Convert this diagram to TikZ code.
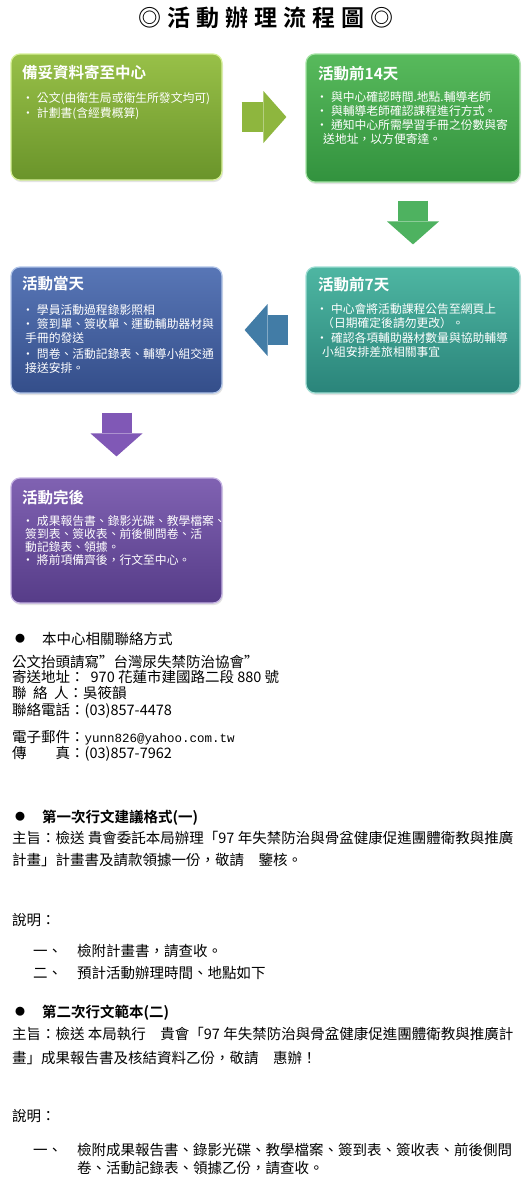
\documentclass[tikz,border=0pt]{standalone}
\usepackage{fontspec}
\setmainfont{Noto Sans CJK TC}[BoldFont={Noto Sans CJK TC Bold}]
\setmonofont{Liberation Mono}
\usetikzlibrary{arrows.meta,shadows}
\definecolor{preptop}{RGB}{152,192,72}
\definecolor{prepbot}{RGB}{106,148,42}
\definecolor{prepedge}{RGB}{214,240,150}
\definecolor{btop}{RGB}{88,186,92}
\definecolor{bbot}{RGB}{50,146,62}
\definecolor{bedge}{RGB}{165,228,165}
\definecolor{ttop}{RGB}{78,182,162}
\definecolor{tbot}{RGB}{42,132,122}
\definecolor{tedge}{RGB}{160,222,212}
\definecolor{daytop}{RGB}{88,118,182}
\definecolor{daybot}{RGB}{52,78,138}
\definecolor{dayedge}{RGB}{176,196,232}
\definecolor{aftertop}{RGB}{128,98,178}
\definecolor{afterbot}{RGB}{86,60,136}
\definecolor{afteredge}{RGB}{196,178,226}
\definecolor{arrowolive}{RGB}{142,182,62}
\definecolor{arrowgreen}{RGB}{78,178,96}
\definecolor{arrowblue}{RGB}{66,124,166}
\definecolor{arrowpurple}{RGB}{128,88,182}
\newcommand{\bul}{•\hspace{3pt}}
\begin{document}
\begin{tikzpicture}[x=1pt, y=-1pt,
    stagebox/.style={line width=1.2pt, rounded corners=9pt, inner sep=0pt,
      drop shadow={opacity=0.22, shadow xshift=1pt, shadow yshift=-2pt}},
    boxhead/.style={anchor=west, inner sep=0pt, text=white,
      font=\bfseries\fontsize{15.5}{17}\selectfont, text height=13.3pt, text depth=1.5pt},
    boxline/.style={anchor=west, inner sep=0pt, text=white,
      font=\fontsize{11.8}{13}\selectfont, text height=10.2pt, text depth=1.2pt},
    bodyline/.style={anchor=west, inner sep=0pt,
      font=\fontsize{14.5}{16}\selectfont, text height=12.5pt, text depth=1.5pt},
    bodyhead/.style={bodyline, font=\bfseries\fontsize{14.5}{16}\selectfont},
    dotmark/.style={anchor=west, inner sep=0pt, font=\fontsize{10}{10}\selectfont},
    blockarrow/.style={line width=30pt,
      -{Triangle[width=52pt, length=23pt, line width=0pt]}}]
  \fill[white] (0,0) rectangle (528,1200);
  \useasboundingbox (0,0) rectangle (528,1200);
  % title
  \def\tsp{\hspace{6pt}}
  \node[font=\bfseries\fontsize{23}{25}\selectfont, inner sep=0pt] (title) at (266,18)
    {◎\tsp 活\tsp 動\tsp 辦\tsp 理\tsp 流\tsp 程\tsp 圖\tsp ◎};
  % stages
  \node[stagebox, minimum width=211pt, minimum height=126pt, draw=prepedge,
    top color=preptop, bottom color=prepbot] (prep) at (116.5,117) {};
  \node[stagebox, minimum width=214pt, minimum height=128pt, draw=bedge,
    top color=btop, bottom color=bbot] (before14) at (413,118) {};
  \node[stagebox, minimum width=214pt, minimum height=126pt, draw=tedge,
    top color=ttop, bottom color=tbot] (before7) at (413,330) {};
  \node[stagebox, minimum width=211pt, minimum height=126pt, draw=dayedge,
    top color=daytop, bottom color=daybot] (dayof) at (116.5,330) {};
  \node[stagebox, minimum width=211pt, minimum height=125pt, draw=afteredge,
    top color=aftertop, bottom color=afterbot] (after) at (116.5,540.5) {};
  % flow arrows
  \draw[blockarrow, draw=arrowolive, shorten <=19pt, shorten >=19pt]
    (prep.east) -- (prep.east -| before14.west);
  \draw[blockarrow, draw=arrowgreen, shorten <=18pt, shorten >=22pt]
    (before14.south) -- (before7.north);
  \draw[blockarrow, draw=arrowblue, shorten <=17pt, shorten >=22pt]
    (before7.west) -- (dayof.east);
  \draw[blockarrow, draw=arrowpurple, shorten <=19pt, shorten >=21pt]
    (dayof.south) -- (after.north);
  % stage texts
  \node[boxhead] (prep-h) at (22,73) {備妥資料寄至中心};
  \foreach \y/\t [count=\i] in {98/{\bul 公文(由衛生局或衛生所發文均可)},
      113/{\bul 計劃書(含經費概算)}}
    \node[boxline] (prep-\i) at (22,\y) {\t};
  \node[boxhead] (before14-h) at (318,74) {活動前14天};
  \foreach \x/\y/\t [count=\i] in {316/97/{\bul 與中心確認時間.地點.輔導老師},
      316/111/{\bul 與輔導老師確認課程進行方式。},
      316/125/{\bul 通知中心所需學習手冊之份數與寄},
      323/139/{送地址，以方便寄達。}}
    \node[boxline] (before14-\i) at (\x,\y) {\t};
  \node[boxhead] (before7-h) at (318,285) {活動前7天};
  \foreach \x/\y/\t [count=\i] in {316/309/{\bul 中心會將活動課程公告至網頁上},
      322/323/{（日期確定後請勿更改）。},
      316/338/{\bul 確認各項輔助器材數量與協助輔導},
      322/352/{小組安排差旅相關事宜}}
    \node[boxline] (before7-\i) at (\x,\y) {\t};
  \node[boxhead] (dayof-h) at (22,284) {活動當天};
  \foreach \x/\y/\t [count=\i] in {22/310/{\bul 學員活動過程錄影照相},
      22/324/{\bul 簽到單、簽收單、運動輔助器材與},
      25/338/{手冊的發送},
      22/354/{\bul 問卷、活動記錄表、輔導小組交通},
      25/368/{接送安排。}}
    \node[boxline] (dayof-\i) at (\x,\y) {\t};
  \node[boxhead] (after-h) at (22,498) {活動完後};
  \foreach \x/\y/\t [count=\i] in {22/521/{\bul 成果報告書、錄影光碟、教學檔案、},
      25/534/{簽到表、簽收表、前後側問卷、活},
      25/547/{動記錄表、領據。},
      22/560/{\bul 將前項備齊後，行文至中心。}}
    \node[boxline] (after-\i) at (\x,\y) {\t};
  % contact
  \node[dotmark] (dot-1) at (15,639) {●};
  \node[bodyline] (contact-h) at (42,639) {本中心相關聯絡方式};
  \foreach \y/\t [count=\i] in {662/{公文抬頭請寫”台灣尿失禁防治協會”},
      677/{寄送地址：\hspace{6pt}970 花蓮市建國路二段 880 號},
      693/{聯\hspace{0.45em}絡\hspace{0.45em}人：吳筱韻},
      710/{聯絡電話：(03)857-4478},
      737/{電子郵件：{\ttfamily\fontsize{12.5}{14}\selectfont yunn826@yahoo.com.tw}},
      753/{傳　　真：(03)857-7962}}
    \node[bodyline] (contact-\i) at (12,\y) {\t};
  % first letter
  \node[dotmark] (dot-2) at (15,817) {●};
  \node[bodyhead] (first-h) at (42,817) {第一次行文建議格式(一)};
  \foreach \x/\y/\t [count=\i] in {12/838/{主旨：檢送 貴會委託本局辦理「97 年失禁防治與骨盆健康促進團體衛教與推廣},
      12/860/{計畫」計畫書及請款領據一份，敬請　鑒核。},
      12/920/{說明：},
      33/951/{一、},
      77/951/{檢附計畫書，請查收。},
      33/973/{二、},
      77/973/{預計活動辦理時間、地點如下}}
    \node[bodyline] (first-\i) at (\x,\y) {\t};
  % second letter
  \node[dotmark] (dot-3) at (15,1012) {●};
  \node[bodyhead] (second-h) at (42,1012) {第二次行文範本(二)};
  \foreach \x/\y/\t [count=\i] in {12/1034/{主旨：檢送 本局執行　貴會「97 年失禁防治與骨盆健康促進團體衛教與推廣計},
      12/1058/{畫」成果報告書及核結資料乙份，敬請　惠辦！},
      12/1116/{說明：},
      33/1150/{一、},
      77/1150/{檢附成果報告書、錄影光碟、教學檔案、簽到表、簽收表、前後側問},
      77/1168/{卷、活動記錄表、領據乙份，請查收。}}
    \node[bodyline] (second-\i) at (\x,\y) {\t};
\end{tikzpicture}
\end{document}
